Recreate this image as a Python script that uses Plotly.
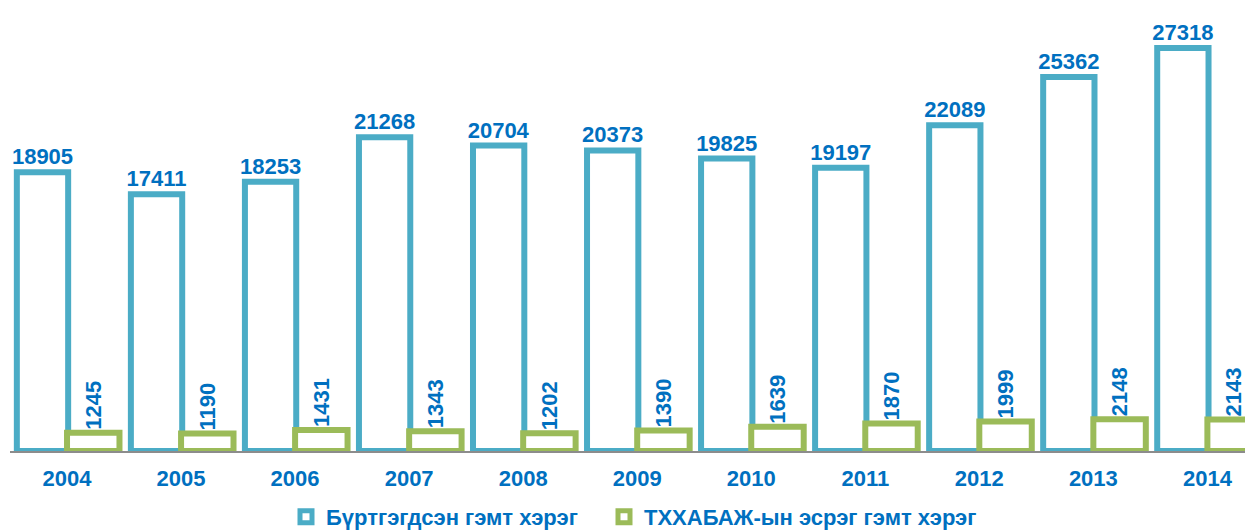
import plotly.graph_objects as go

years = ['2004', '2005', '2006', '2007', '2008', '2009', '2010', '2011', '2012', '2013', '2014']
registered = [18905, 17411, 18253, 21268, 20704, 20373, 19825, 19197, 22089, 25362, 27318]
against_txxabaj = [1245, 1190, 1431, 1343, 1202, 1390, 1639, 1870, 1999, 2148, 2143]

name_registered = 'Бүртгэгдсэн гэмт хэрэг'
name_against = 'ТХХАБАЖ-ын эсрэг гэмт хэрэг'

blue_line = '#4BACC6'
green_line = '#9BBB59'
text_blue = '#0070C0'
font_family = 'Liberation Sans, Arial, sans-serif'

fig = go.Figure()

fig.add_trace(go.Bar(
    name=name_registered,
    x=years,
    y=registered,
    width=0.45,
    offset=-0.44,
    marker=dict(color='white', line=dict(color=blue_line, width=6)),
    text=[str(v) for v in registered],
    textposition='outside',
    textangle=0,
    textfont=dict(family=font_family, size=22, color=text_blue, weight='bold'),
    cliponaxis=False,
    legend='legend',
))

fig.add_trace(go.Bar(
    name=name_against,
    x=years,
    y=against_txxabaj,
    width=0.46,
    offset=0.0,
    marker=dict(color='white', line=dict(color=green_line, width=6)),
    text=[str(v) for v in against_txxabaj],
    textposition='outside',
    textangle=-90,
    textfont=dict(family=font_family, size=22, color=text_blue, weight='bold'),
    cliponaxis=False,
    legend='legend2',
))

legend_style = dict(
    orientation='h',
    xanchor='left',
    y=-66 / 431, yanchor='middle',
    font=dict(family=font_family, size=22, color=text_blue, weight='bold'),
    itemwidth=30,
    bgcolor='rgba(0,0,0,0)',
)

# the page body adds an 8px margin, so the figure is drawn 8px smaller
fig.update_layout(
    width=1245,
    height=523,
    paper_bgcolor='white',
    plot_bgcolor='white',
    margin=dict(l=2, r=0, t=12, b=80, autoexpand=False),
    barmode='overlay',
    font=dict(family=font_family, size=22, color=text_blue),
    showlegend=True,
    legend=dict(legend_style, x=(278 - 2) / 1243),
    legend2=dict(legend_style, x=(596 - 2) / 1243),
    xaxis=dict(
        range=[-0.5, 10.40],
        showgrid=False,
        showline=True,
        linecolor='#8c8c8c',
        linewidth=2,
        ticks='',
        ticklabelstandoff=7,
        tickfont=dict(family=font_family, size=22, color=text_blue, weight='bold'),
    ),
    yaxis=dict(
        range=[0, 29220],
        showgrid=False,
        showticklabels=False,
        zeroline=False,
        showline=False,
        ticks='',
    ),
)

fig.update_traces(constraintext='none')

fig.write_html('out.html')
